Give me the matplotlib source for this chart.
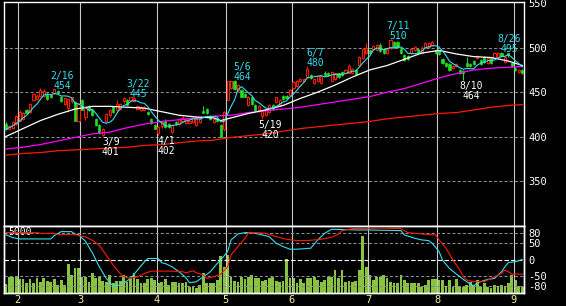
import numpy as np
import pandas as pd
import matplotlib
matplotlib.use('Agg')
import matplotlib.pyplot as plt

# 日足 始値・高値・安値・終値
opens = [414, 408, 410, 414, 418, 420, 430, 428, 441, 442, 446, 446, 447, 447, 449, 451, 445, 437, 432, 440,
         439, 418, 441, 422, 433, 430, 420, 413, 402, 418, 424, 433, 430, 431, 440, 441, 441, 440, 431, 430,
         430, 428, 420, 413, 404, 412, 418, 414, 405, 416, 414, 418, 415, 415, 416, 413, 416, 429, 431, 423,
         416, 419, 413, 408, 441, 455, 462, 452, 452, 448, 436, 445, 436, 430, 423, 424, 428, 436, 439, 435,
         446, 446, 447, 455, 457, 462, 462, 467, 469, 460, 462, 460, 472, 472, 463, 465, 471, 473, 471, 472,
         471, 475, 481, 488, 494, 497, 499, 497, 503, 499, 494, 500, 507, 507, 499, 492, 491, 494, 497, 499,
         494, 501, 501, 503, 497, 497, 487, 483, 482, 477, 479, 475, 474, 483, 482, 485, 488, 486, 490, 483,
         488, 489, 490, 494, 484, 494, 483, 477, 473, 475]
highs = [416, 413, 417, 424, 430, 428, 431, 438, 449, 448, 455, 453, 449, 448, 454, 452, 446, 444, 443, 445,
         440, 438, 442, 434, 435, 431, 421, 414, 410, 426, 431, 434, 441, 438, 444, 442, 445, 444, 435, 434,
         434, 429, 421, 414, 412, 417, 420, 415, 414, 417, 421, 423, 421, 419, 422, 421, 421, 434, 432, 424,
         421, 420, 414, 429, 463, 463, 464, 459, 453, 449, 446, 446, 437, 435, 430, 431, 437, 437, 445, 442,
         447, 447, 453, 462, 464, 466, 466, 480, 470, 466, 469, 469, 474, 473, 474, 472, 472, 474, 476, 482,
         477, 476, 491, 500, 505, 498, 503, 504, 505, 500, 500, 510, 508, 508, 500, 493, 492, 500, 502, 500,
         502, 506, 506, 508, 498, 498, 488, 484, 483, 481, 483, 476, 475, 490, 483, 486, 492, 487, 491, 489,
         489, 495, 495, 495, 491, 494, 484, 478, 476, 476]
lows = [407, 407, 409, 413, 417, 419, 425, 427, 440, 441, 445, 445, 441, 443, 448, 448, 439, 436, 428, 438,
        418, 416, 430, 419, 429, 423, 412, 403, 401, 416, 422, 427, 429, 430, 438, 435, 440, 439, 430, 429,
        429, 424, 414, 408, 402, 410, 410, 410, 404, 413, 413, 417, 414, 414, 415, 412, 415, 426, 425, 419,
        415, 416, 399, 406, 440, 453, 452, 450, 444, 444, 434, 436, 429, 428, 420, 423, 427, 430, 438, 434,
        441, 442, 446, 454, 456, 461, 461, 466, 465, 459, 461, 459, 468, 468, 462, 464, 466, 468, 470, 471,
        470, 469, 480, 487, 493, 493, 498, 496, 495, 493, 493, 499, 500, 500, 493, 485, 486, 493, 496, 493,
        493, 500, 500, 502, 493, 492, 482, 478, 474, 476, 478, 470, 464, 478, 478, 481, 487, 481, 483, 482,
        482, 488, 489, 491, 483, 490, 478, 474, 472, 470]
closes = [408, 412, 416, 423, 428, 426, 426, 437, 448, 446, 452, 451, 442, 444, 453, 449, 440, 443, 442, 444,
          418, 437, 430, 433, 430, 424, 413, 404, 409, 425, 430, 428, 437, 437, 443, 436, 444, 443, 434, 433,
          433, 425, 415, 409, 411, 416, 411, 411, 413, 414, 420, 421, 420, 418, 421, 420, 420, 427, 426, 420,
          420, 417, 400, 428, 462, 463, 453, 458, 445, 445, 445, 437, 430, 434, 429, 430, 436, 431, 444, 441,
          442, 443, 452, 461, 463, 465, 465, 476, 466, 465, 468, 468, 469, 469, 473, 471, 467, 469, 475, 480,
          476, 470, 490, 499, 500, 494, 502, 503, 496, 494, 499, 509, 501, 501, 494, 486, 487, 499, 501, 494,
          500, 505, 505, 507, 494, 493, 483, 479, 475, 480, 482, 471, 471, 479, 479, 482, 491, 482, 484, 488,
          483, 494, 494, 491, 490, 492, 479, 475, 475, 471]

# 出来高
volume = [720, 1260, 1300, 1360, 1100, 1100, 780, 1100, 780, 1180, 900, 1180, 960, 900, 1100, 620, 1040, 640, 2320, 1440,
          2020, 2020, 1300, 1260, 900, 1620, 1180, 1300, 960, 900, 1440, 780, 960, 960, 1440, 900, 1180, 1580, 1120, 780,
          780, 1100, 1180, 1040, 780, 860, 1100, 640, 900, 900, 780, 780, 860, 500, 500, 380, 640, 1580, 780, 780,
          780, 1040, 2960, 2100, 3040, 1300, 980, 900, 1300, 1100, 1300, 1440, 1180, 1180, 980, 1040, 1180, 1300, 980, 900,
          980, 2700, 1180, 1180, 780, 1100, 780, 1180, 1180, 1300, 1040, 900, 1040, 1260, 1300, 1840, 1180, 1840, 900, 960,
          900, 960, 1840, 4560, 2100, 1440, 1040, 1260, 1300, 1440, 1180, 900, 820, 780, 1440, 1040, 780, 820, 780, 820,
          500, 640, 1040, 1100, 1100, 1040, 1040, 560, 1040, 500, 1100, 560, 500, 640, 900, 640, 1040, 500, 820, 500,
          380, 640, 560, 640, 560, 780, 1440, 1040, 560, 500]

# 25日線 (読み取り)
ma25_days = [0, 5, 10, 15, 20, 25, 30, 35, 40, 45, 50, 55, 60, 62, 65, 70, 75, 80, 85, 90, 95, 100, 105, 110,
             115, 120, 125, 130, 135, 140, 145, 149]
ma25 = [400, 409, 418, 425, 431, 434, 434, 433, 432, 428, 424, 422, 421, 418, 421, 426, 430, 435, 443, 450, 458,
        467, 475, 480, 487, 494, 497, 493, 490, 489, 485, 480]

# 13週線・26週線 (5日ごとに読み取り)
ma_w_days = [0, 5, 10, 15, 20, 25, 30, 35, 40, 45, 50, 55, 60, 65, 70, 75, 80, 85, 90, 95, 100, 105, 110, 115,
             120, 125, 130, 135, 140, 145, 149]
ma13w = [386, 388, 391, 395, 399, 403, 405, 410, 414, 417, 419, 421, 423, 424, 427, 429, 431, 433, 436, 439,
         442, 445, 450, 454, 460, 466, 471, 475, 477, 478, 479]
ma26w = [379, 381, 382, 384, 385, 386, 387, 388, 390, 391, 393, 395, 396, 399, 401, 403, 406, 409, 411, 413,
         415, 417, 420, 422, 424, 426, 427, 430, 433, 435, 436]

# オシレーター
osc1_days = [0, 2, 4, 13, 14, 16, 19, 20, 21, 23, 25, 27, 29, 31, 32, 34, 36, 38, 40, 41, 44, 45, 46, 48, 50,
             52, 53, 55, 57, 59, 61, 62, 64, 65, 67, 69, 71, 74, 76, 78, 80, 82, 84, 88, 90, 92, 94, 102, 105,
             114, 115, 118, 120, 122, 123, 125, 126, 128, 130, 131, 132, 134, 135, 136, 139, 141, 143, 144, 145,
             147, 149]
osc1 = [75, 66, 62, 62, 72, 84, 84, 76, 75, 55, 20, -22, -57, -80, -80, -72, -57, -32, -7, 3, 3, -10, -12, -22,
        -37, -55, -70, -67, -52, -37, -12, -2, 24, 59, 77, 81, 81, 74, 69, 49, 39, 31, 31, 34, 59, 79, 91, 89, 89,
        87, 74, 64, 59, 57, 49, 24, -2, -27, -44, -52, -60, -74, -80, -70, -60, -57, -37, -22, -9, -7, 0]
osc2_days = [0, 9, 10, 14, 15, 20, 21, 23, 25, 27, 29, 31, 33, 34, 36, 38, 40, 42, 48, 51, 52, 54, 55, 57, 58,
             60, 62, 64, 65, 67, 69, 70, 72, 75, 78, 81, 84, 87, 91, 94, 96, 97, 100, 108, 114, 116, 120, 124,
             125, 127, 129, 131, 132, 133, 135, 138, 139, 141, 143, 144, 145, 146, 149]
osc2 = [81, 81, 79, 79, 75, 75, 73, 68, 58, 43, 13, -17, -42, -52, -57, -52, -42, -35, -35, -37, -40, -34, -40,
        -47, -57, -52, -44, -22, 14, 39, 64, 81, 81, 79, 69, 61, 57, 57, 61, 67, 77, 87, 93, 95, 93, 81, 77, 74,
        59, 34, -2, -32, -52, -62, -67, -67, -62, -52, -42, -32, -37, -44, -44]

month_start = [4, 22, 44, 64, 83, 105, 125, 147]
month_names = ['2', '3', '4', '5', '6', '7', '8', '9']

high_days = [14, 36, 66, 87, 111, 143]
high_dates = ['2/16', '3/22', '5/6', '6/7', '7/11', '8/26']
high_vals = [454, 445, 464, 480, 510, 495]
low_days = [28, 44, 74, 132]
low_dates = ['3/9', '4/1', '5/19', '8/10']
low_vals = [401, 402, 420, 464]

price_ticks = [550, 500, 450, 400, 350]
osc_ticks = [80, 50, 0, -50, -80]

RED = '#ff1a00'
GREEN = '#22dd22'
CYAN = '#33e0f0'
FONT = 'DejaVu Sans Mono'

n = len(closes)
x = np.arange(n)
o = np.array(opens)
c = np.array(closes)
up = c >= o

fig = plt.figure(figsize=(5.66, 3.06), dpi=100, facecolor='black')
ax = fig.add_axes([4 / 566, 80 / 306, 520 / 566, 224 / 306])
ax2 = fig.add_axes([4 / 566, 13 / 306, 520 / 566, 67 / 306], sharex=ax)
axo = ax2.twinx()

for a in (ax, ax2):
    a.set_facecolor('black')
axo.patch.set_visible(False)
for a in (ax, ax2, axo):
    for s in a.spines.values():
        s.set_color('white')
        s.set_linewidth(1.0)

# ---- 価格 ----
ax.set_xlim(-0.5, n - 0.5)
ax.set_ylim(299.3, 551.5)
for p in price_ticks[1:]:
    ax.axhline(p, color='#8c8c8c', lw=0.75, ls=(0, (3, 2)), zorder=1)
for m in month_start:
    ax.axvline(m - 0.5, color='#c8c8c8', lw=0.8, zorder=1)
    ax2.axvline(m - 0.5, color='#c8c8c8', lw=0.8, zorder=3)

ax.vlines(x, lows, highs, colors=np.where(up, RED, GREEN), lw=0.75, zorder=2)
body_lo = np.minimum(o, c)
body_h = np.maximum(np.abs(c - o), 0.6)
ax.bar(x[up], body_h[up], bottom=body_lo[up], width=0.62, facecolor='black',
       edgecolor=RED, lw=0.75, zorder=3)
ax.bar(x[~up], body_h[~up], bottom=body_lo[~up], width=0.62, facecolor=GREEN,
       edgecolor=GREEN, lw=0.5, zorder=3)

ax.plot(ma_w_days, ma26w, color=RED, lw=0.9, zorder=4)
ax.plot(ma_w_days, ma13w, color='#ff00ff', lw=0.9, zorder=4)
ax.plot(ma25_days, ma25, color='white', lw=0.9, zorder=4)
ma5 = pd.Series(closes).rolling(5, min_periods=1).mean()
ax.plot(x, ma5, color=CYAN, lw=0.8, zorder=5)

for d, t, v in zip(high_days, high_dates, high_vals):
    ax.annotate(f'{t}\n{v}', xy=(d, v), xytext=(8, -2), textcoords='offset pixels',
                ha='center', va='bottom', color=CYAN, fontsize=7, family=FONT,
                linespacing=1.0, zorder=6)
for d, t, v in zip(low_days, low_dates, low_vals):
    ax.annotate(f'{t}\n{v}', xy=(d, v), xytext=(8, -1), textcoords='offset pixels',
                ha='center', va='top', color='white', fontsize=7, family=FONT,
                linespacing=1.0, zorder=6)

ax.yaxis.tick_right()
ax.set_yticks(price_ticks)
ax.tick_params(axis='y', length=0, pad=3, labelcolor='white', labelsize=7.5)
ax.tick_params(axis='x', length=0, labelbottom=False)
for lb in ax.get_yticklabels():
    lb.set_family(FONT)

# ---- 出来高・オシレーター ----
ax2.bar(x, volume, width=0.82, color='#88c440', zorder=2)
ax2.set_ylim(0, 5360)
ax2.set_yticks([])
ax2.set_xticks([m - 0.5 for m in month_start])
ax2.set_xticklabels(month_names)
ax2.tick_params(axis='x', length=0, pad=1.5, labelcolor='#f4f0a8', labelsize=7.5)
for lb in ax2.get_xticklabels():
    lb.set_family(FONT)
ax2.text(0.008, 0.99, '5000', transform=ax2.transAxes, ha='left', va='top',
         color='white', fontsize=7, family=FONT, zorder=6)

axo.set_ylim(-101, 101)
for v in [80, 50, -50, -80]:
    axo.axhline(v, color='#8c8c8c', lw=0.75, ls=(0, (3, 2)), zorder=1)
axo.axhline(0, color='white', lw=0.8, ls=(0, (4, 2)), zorder=1)
axo.plot(osc1_days, osc1, color=CYAN, lw=0.8, zorder=3)
axo.plot(osc2_days, osc2, color=RED, lw=0.8, zorder=4)
axo.set_yticks(osc_ticks)
axo.set_yticklabels([str(t) for t in osc_ticks])
axo.tick_params(axis='y', length=0, pad=3, labelcolor='white', labelsize=7.5)
for lb in axo.get_yticklabels():
    lb.set_family(FONT)

fig.savefig('out.png', dpi=100, facecolor='black')
